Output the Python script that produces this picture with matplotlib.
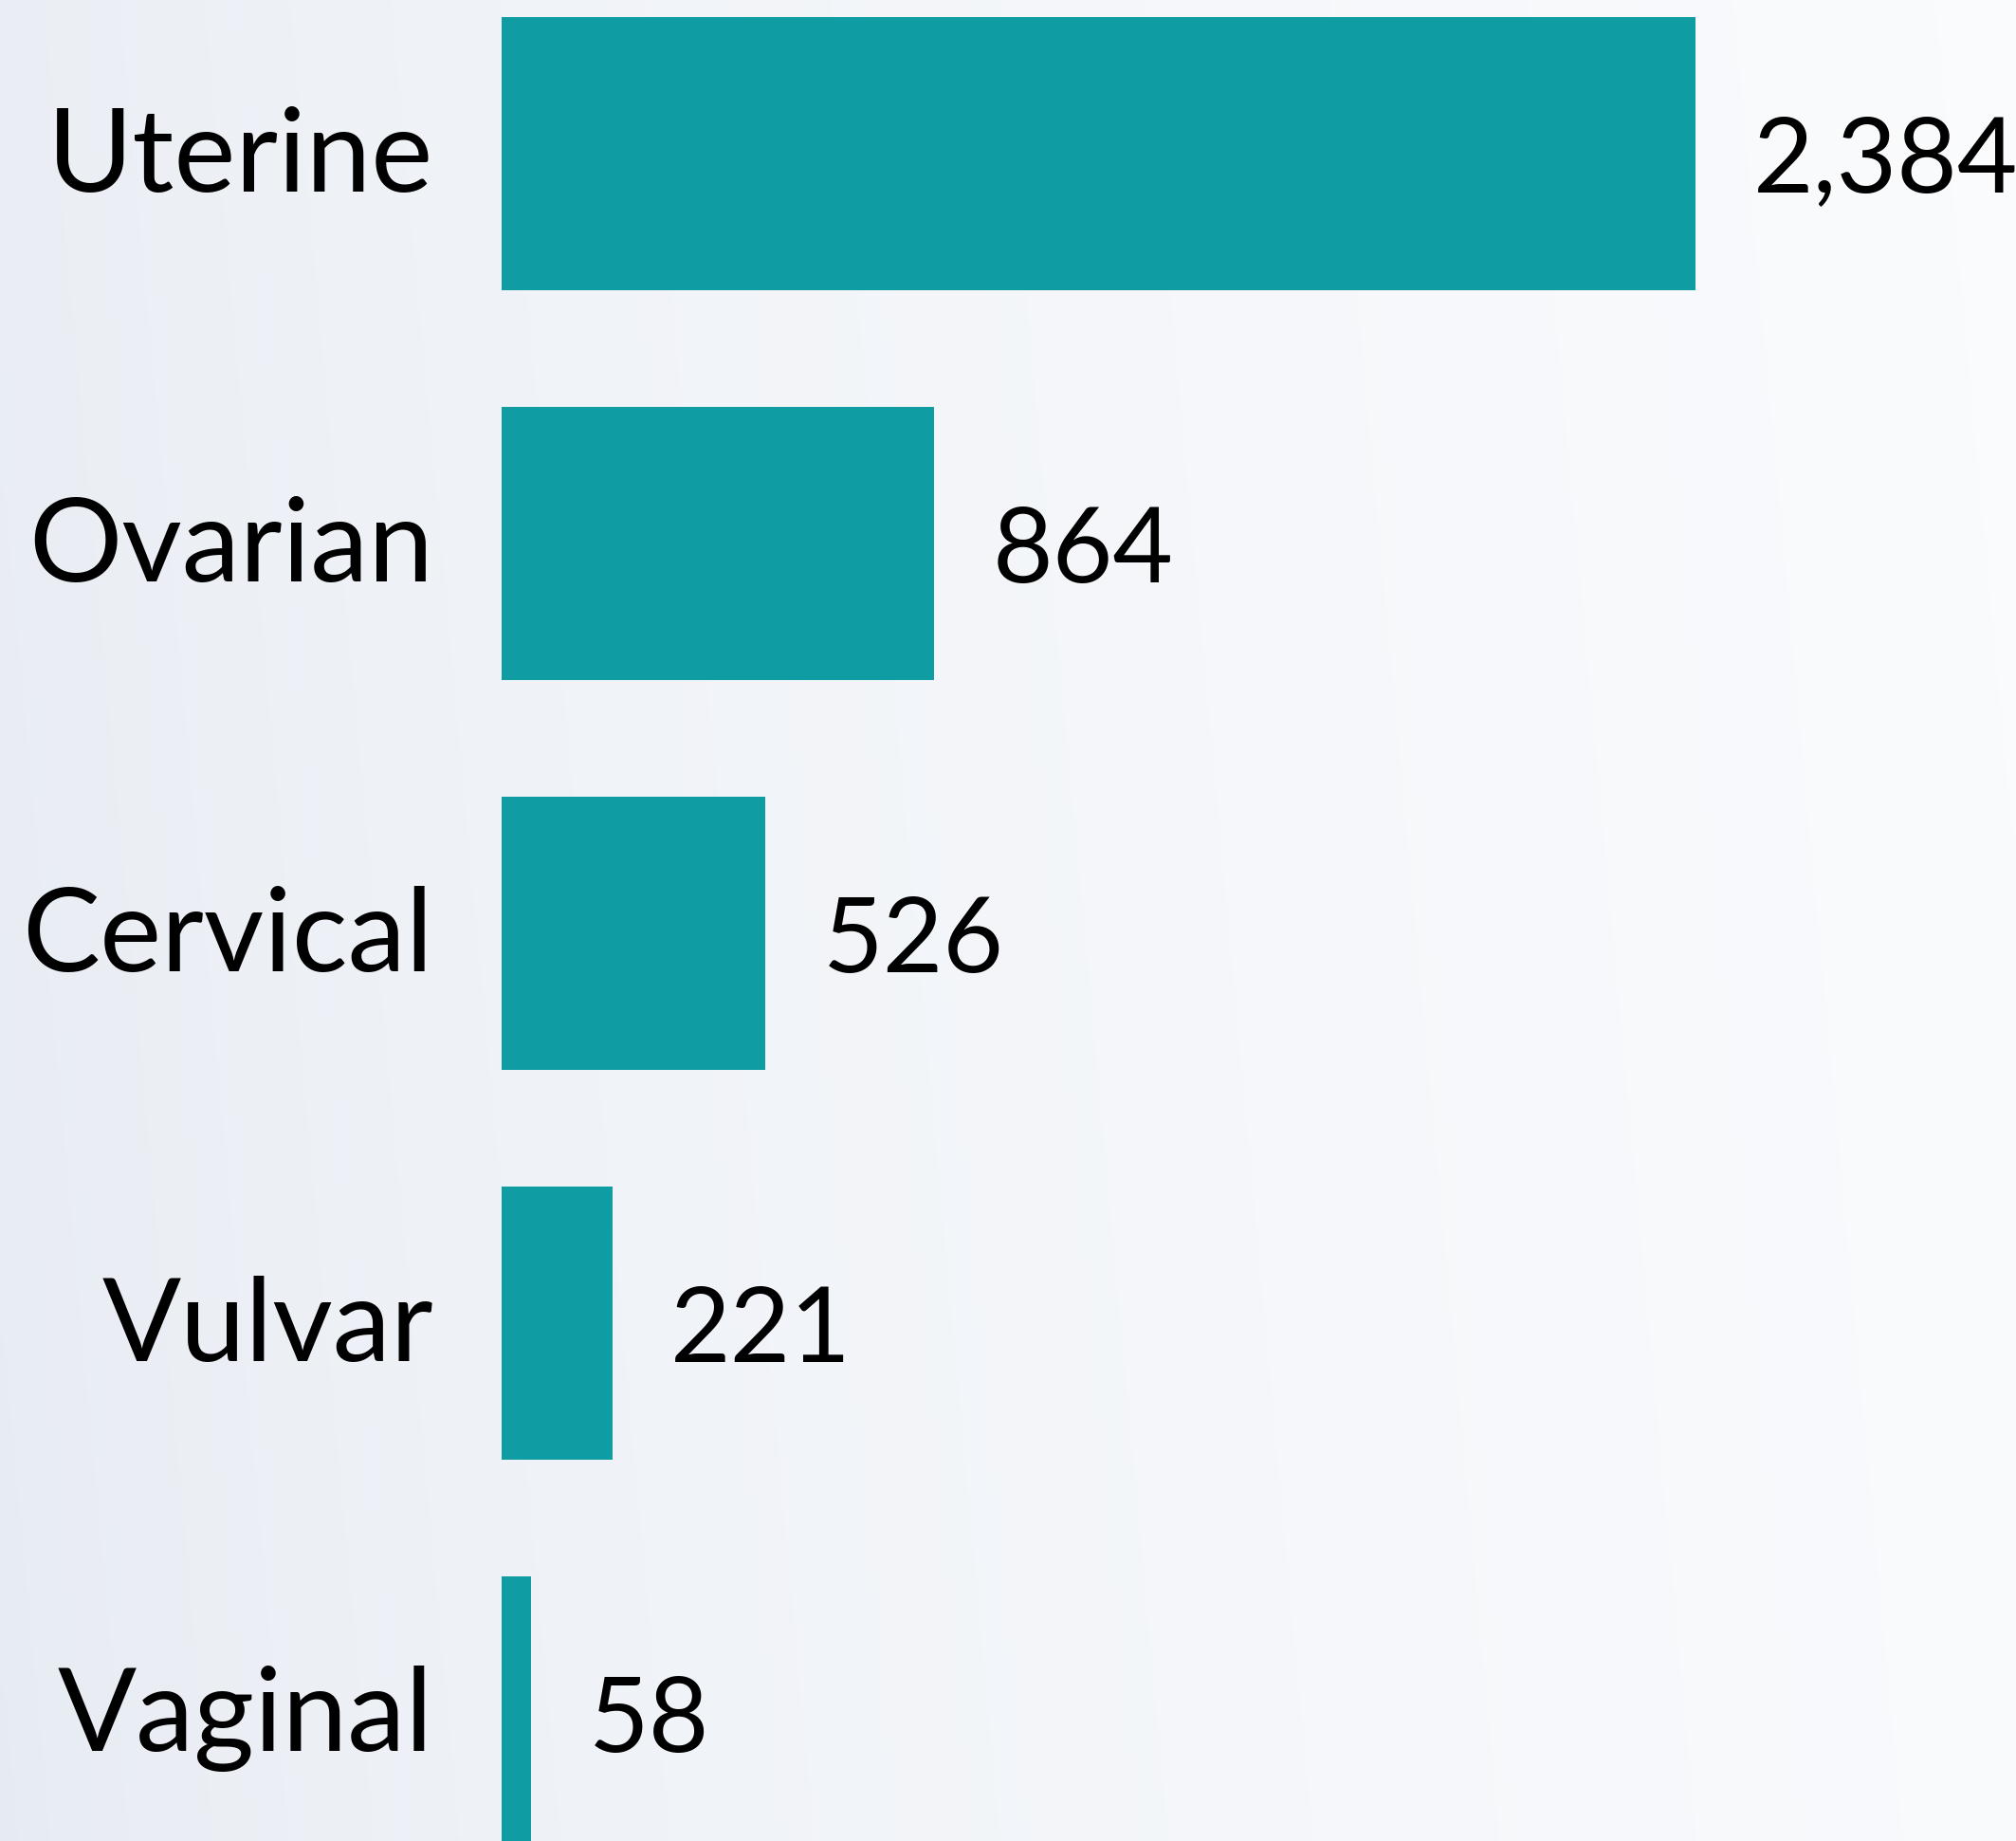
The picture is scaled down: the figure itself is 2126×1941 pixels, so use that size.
import numpy as np
import matplotlib.pyplot as plt
import matplotlib.transforms as mtransforms
from matplotlib.colors import LinearSegmentedColormap

# Gynecologic cancer cases by site
sites = ["Uterine", "Ovarian", "Cervical", "Vulvar", "Vaginal"]
cases = [2384, 864, 526, 221, 58]

bar_color = "#0f9da3"

plt.rcParams['font.family'] = ['Lato', 'DejaVu Sans']

fig = plt.figure(figsize=(21.26, 19.41), dpi=100)

# soft background gradient, bluish grey on the left fading to near white
bg = fig.add_axes([0, 0, 1, 1])
bg.axis('off')
u = np.linspace(0, 1, 300)
v = np.linspace(1, 0, 300)
U, V = np.meshgrid(u, v)
t = np.clip(U * 0.95 + V * 0.08, 0, 1) ** 0.6
bg_cmap = LinearSegmentedColormap.from_list("bg", ["#e6ebf2", "#fafbfd"])
bg.imshow(t, cmap=bg_cmap, aspect='auto', extent=[0, 1, 0, 1], interpolation='bicubic')

ax = fig.add_axes([529 / 2126, 0, 1 - 529 / 2126, 1])
ax.patch.set_alpha(0)
ax.barh(range(len(sites)), cases, height=0.7, color=bar_color)
ax.set_ylim(4.328, -0.395)
ax.set_xlim(0, 3024)
ax.set_yticks(range(len(sites)), sites)
ax.set_xticks([])
ax.tick_params(axis='y', length=0, pad=52, labelsize=88.5, labelcolor='black')
for s in ax.spines.values():
    s.set_visible(False)

# nudge the category labels up a little
lift = mtransforms.ScaledTranslation(0, 4 / 72, fig.dpi_scale_trans)
for lab in ax.get_yticklabels():
    lab.set_transform(lab.get_transform() + lift)

# value labels at the end of each bar
for i, val in enumerate(cases):
    ax.annotate(f"{val:,}", (val, i), xytext=(44, 0), textcoords='offset points',
                va='center_baseline', ha='left', fontsize=79, color='black')

fig.savefig("out.png", dpi=100)
